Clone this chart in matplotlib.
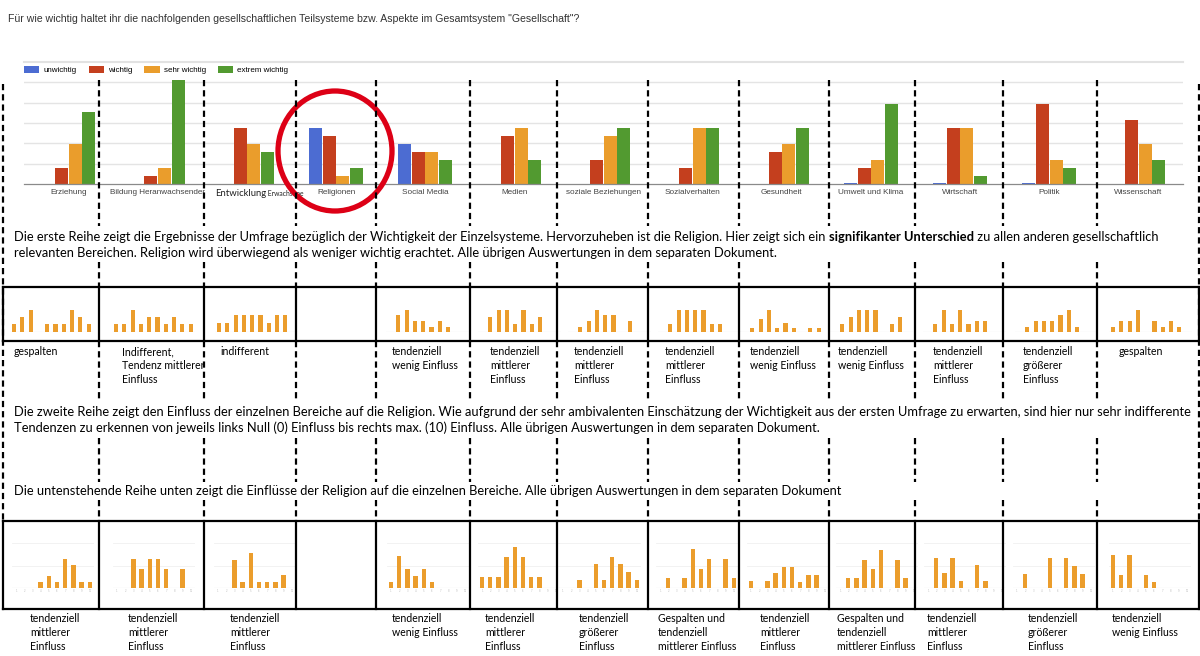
import matplotlib.pyplot as plt
from matplotlib.patches import Ellipse
import numpy as np

W, H = 1200, 656

# top chart: counts per category
categories = ['Erziehung', 'Bildung Heranwachsender', 'Entwicklung Erwachsene', 'Religionen',
              'Social Media', 'Medien', 'soziale Beziehungen', 'Sozialverhalten', 'Gesundheit',
              'Umwelt und Klima', 'Wirtschaft', 'Politik', 'Wissenschaft']
unwichtig = [0, 0, 0, 7, 5, 0, 0, 0, 0, 0.08, 0.08, 0.08, 0]
wichtig = [2, 1, 7, 6, 4, 6, 3, 2, 4, 2, 7, 10, 8]
sehr_wichtig = [5, 2, 5, 1, 4, 7, 6, 7, 5, 3, 7, 3, 5]
extrem_wichtig = [9, 13, 4, 2, 3, 3, 7, 7, 7, 10, 1, 2, 3]
series_labels = ['unwichtig', 'wichtig', 'sehr wichtig', 'extrem wichtig']
colors = ['#4c6cd2', '#c43f1e', '#ea9d2c', '#529a30']

# second row: influence of areas on religion (relative bar heights, slots 0..9)
row1 = [
    [23, 45, 67, 0, 23, 23, 23, 67, 45, 23],
    [23, 23, 67, 23, 45, 45, 23, 45, 23, 23],
    [26, 26, 50, 50, 50, 50, 26, 50, 50, 0],
    None,
    [0, 50, 67, 33, 33, 16, 33, 16, 0, 0],
    [0, 45, 67, 67, 23, 67, 23, 45, 0, 0],
    [0, 16, 33, 67, 50, 50, 0, 33, 0, 0],
    [0, 23, 67, 67, 67, 67, 23, 23, 0, 0],
    [0, 13, 40, 67, 13, 26, 13, 0, 13, 13],
    [0, 23, 45, 67, 67, 67, 0, 23, 45, 0],
    [0, 23, 67, 23, 67, 23, 33, 33, 0, 0],
    [0, 16, 33, 33, 33, 50, 67, 16, 0, 0],
    [16, 33, 33, 67, 0, 33, 16, 33, 16, 0],
]
row1_labels = ['gespalten', 'Indifferent,\nTendenz mittlerer\nEinfluss', 'indifferent', '',
               'tendenziell\nwenig Einfluss', 'tendenziell\nmittlerer\nEinfluss',
               'tendenziell\nmittlerer\nEinfluss', 'tendenziell\nmittlerer\nEinfluss',
               'tendenziell\nwenig Einfluss', 'tendenziell\nwenig Einfluss',
               'tendenziell\nmittlerer\nEinfluss', 'tendenziell\ngrößerer\nEinfluss', 'gespalten']

# third row: influence of religion on areas
row2 = [
    [0, 0, 0, 17, 35, 17, 87, 69, 17, 17],
    [0, 0, 87, 57, 87, 87, 57, 0, 57, 0],
    [0, 0, 83, 19, 105, 19, 19, 19, 40, 0],
    None,
    [18, 95, 57, 37, 57, 18, 0, 0, 0, 0],
    [34, 34, 34, 92, 122, 92, 34, 34, 0, 0],
    [0, 0, 24, 0, 71, 24, 94, 71, 48, 24],
    [0, 30, 0, 30, 116, 58, 86, 0, 86, 30],
    [20, 0, 20, 44, 62, 62, 18, 40, 40, 0],
    [0, 30, 30, 85, 58, 113, 0, 85, 30, 0],
    [0, 90, 45, 90, 22, 0, 68, 22, 0, 0],
    [0, 42, 0, 0, 90, 0, 90, 67, 42, 0],
    [100, 38, 100, 0, 38, 17, 0, 0, 0, 0],
]
row2_labels = ['tendenziell\nmittlerer\nEinfluss', 'tendenziell\nmittlerer\nEinfluss',
               'tendenziell\nmittlerer\nEinfluss', '', 'tendenziell\nwenig Einfluss',
               'tendenziell\nmittlerer\nEinfluss', 'tendenziell\ngrößerer\nEinfluss',
               'Gespalten und\ntendenziell\nmittlerer Einfluss', 'tendenziell\nmittlerer\nEinfluss',
               'Gespalten und\ntendenziell\nmittlerer Einfluss', 'tendenziell\nmittlerer\nEinfluss',
               'tendenziell\ngrößerer\nEinfluss', 'tendenziell\nwenig Einfluss']

# layout (pixels)
col_x = [3, 99, 204, 296, 376, 470, 557, 648, 739, 829, 915, 1003, 1097, 1199]
r1_first = [14, 116, 219, None, 390, 482, 572, 662, 744, 834, 927, 1019, 1113]
r2_first = [16, 117, 218, None, 391, 482, 563, 660, 751, 840, 928, 1017, 1113]
r1_lab_x = [14, 122, 220, 0, 392, 490, 574, 665, 750, 838, 933, 1023, 1119]
r2_lab_x = [30, 128, 230, 0, 392, 485, 579, 658, 760, 837, 927, 1028, 1112]

body_font = 'Lato'
orange = '#eb9d2c'


def rect(x0, y0, x1, y1):
    return [x0 / W, 1 - y1 / H, (x1 - x0) / W, (y1 - y0) / H]


fig = plt.figure(figsize=(W / 100, H / 100), dpi=100)

# --- grouped bar chart
ax = fig.add_axes(rect(24, 62, 1183, 184))
x = np.arange(len(categories))
for j, vals in enumerate([unwichtig, wichtig, sehr_wichtig, extrem_wichtig]):
    ax.bar(x + (j - 1.5) * 0.152, vals, 0.146, color=colors[j], label=series_labels[j], zorder=2)
ax.set_xlim(-0.5, len(categories) - 0.5)
ax.set_ylim(0, 15.25)
ax.set_yticks(np.linspace(0, 12.7, 6)[1:])
ax.yaxis.grid(True, color='#e4e4e4', lw=1)
ax.set_axisbelow(True)
ax.tick_params(left=False, labelleft=False, bottom=False, labelbottom=False)
for s in ['left', 'right']:
    ax.spines[s].set_visible(False)
ax.spines['top'].set_color('#e2e2e2')
ax.spines['top'].set_linewidth(1.5)
ax.spines['bottom'].set_color('#8a8a8a')
ax.spines['bottom'].set_linewidth(0.9)
lab_y = (184 - 193) / 122
for i, c in enumerate(categories):
    if c == 'Entwicklung Erwachsene':
        t = ax.text(i - 0.07, lab_y, 'Entwicklung', transform=ax.get_xaxis_transform(),
                    ha='center', va='center', fontsize=6.8, family=body_font, color='#222')
        ax.annotate(' Erwachsene', xy=(1, 0.5), xycoords=t, ha='left', va='center',
                    fontsize=4.9, family=body_font, color='#222')
    else:
        ax.text(i, lab_y, c, transform=ax.get_xaxis_transform(), ha='center', va='center',
                fontsize=5.9, family='Liberation Sans', color='#444')
ax.legend(loc='center left', bbox_to_anchor=(0, (184 - 70) / 122), ncol=4, frameon=False,
          handlelength=1.9, handleheight=1.0, handletextpad=0.5,
          columnspacing=1.5, borderpad=0, borderaxespad=0,
          prop={'family': 'Liberation Sans', 'size': 5.8})


# --- mini charts
def mini(vals, first, base, spacing, ymax, width, grid=False):
    a = fig.add_axes(rect(first - spacing / 2, base - ymax / 3, first + spacing * 9.5, base))
    a.bar(np.arange(10), vals, width, color=orange, zorder=2)
    a.set_xlim(-0.5, 9.5)
    a.set_ylim(0, ymax)
    a.axis('off')
    a.axhline(0, color='#d0d0d0', lw=0.8, zorder=1)
    if grid:
        for g in [ymax * 0.45, ymax * 0.9]:
            a.axhline(g, color='#f0f0f0', lw=0.6, zorder=0)
        for k in range(10):
            a.text(k, -3, str(k + 1), ha='center', va='top', fontsize=1.8, color='#bbbbbb')
    return a


for i, vals in enumerate(row1):
    if vals is not None:
        mini(vals, r1_first[i], 332, 8.3, 80, 0.5)
for i, vals in enumerate(row2):
    if vals is not None:
        mini(vals, r2_first[i], 588, 8.2, 150, 0.55, grid=True)

# --- overlay (lines, boxes, text)
ov = fig.add_axes([0, 0, 1, 1], zorder=5)
ov.set_xlim(0, W)
ov.set_ylim(H, 0)
ov.axis('off')

ov.text(8, 19, 'Für wie wichtig haltet ihr die nachfolgenden gesellschaftlichen Teilsysteme bzw. '
        'Aspekte im Gesamtsystem "Gesellschaft"?', fontsize=7.6, family='Liberation Sans',
        color='#333', va='center', ha='left')

dash = dict(color='black', lw=1.6, dashes=(2.8, 1.8))
for k, xv in enumerate(col_x):
    if k == 0 or k == len(col_x) - 1:
        ov.plot([xv, xv], [84, 521], **dash)
    else:
        for y0, y1 in [(80, 226), (262, 287), (341, 402), (438, 482), (500, 521)]:
            ov.plot([xv, xv], [y0, y1], **dash)

box = dict(color='black', lw=1.6, solid_capstyle='projecting')
for y0, y1 in [(287, 341), (521, 609)]:
    ov.plot([col_x[0], col_x[-1]], [y0, y0], **box)
    ov.plot([col_x[0], col_x[-1]], [y1, y1], **box)
    for xv in col_x:
        ov.plot([xv, xv], [y0, y1], **box)

ov.add_patch(Ellipse((335, 151), 114, 120, fill=False, edgecolor='#dd0016', lw=3.8))

pf = dict(fontsize=9.25, family=body_font, color='black', va='center', ha='left')
t1 = ov.text(14, 237, 'Die erste Reihe zeigt die Ergebnisse der Umfrage bezüglich der Wichtigkeit der '
             'Einzelsysteme. Hervorzuheben ist die Religion. Hier zeigt sich ein ', **pf)
t2 = ov.annotate('signifikanter Unterschied', xy=(1, 0.5), xycoords=t1, weight='bold', **pf)
ov.annotate(' zu allen anderen gesellschaftlich', xy=(1, 0.5), xycoords=t2, **pf)
ov.text(14, 253, 'relevanten Bereichen. Religion wird überwiegend als weniger wichtig erachtet. '
        'Alle übrigen Auswertungen in dem separaten Dokument.', **pf)
ov.text(14, 412, 'Die zweite Reihe zeigt den Einfluss der einzelnen Bereiche auf die Religion. Wie '
        'aufgrund der sehr ambivalenten Einschätzung der Wichtigkeit aus der ersten Umfrage zu '
        'erwarten, sind hier nur sehr indifferente', **pf)
ov.text(14, 428, 'Tendenzen zu erkennen von jeweils links Null (0) Einfluss bis rechts max. (10) '
        'Einfluss. Alle übrigen Auswertungen in dem separaten Dokument.', **pf)
ov.text(14, 491, 'Die untenstehende Reihe unten zeigt die Einflüsse der Religion auf die einzelnen '
        'Bereiche. Alle übrigen Auswertungen in dem separaten Dokument', **pf)

lf = dict(fontsize=7.6, family=body_font, color='black', va='top', ha='left', linespacing=1.35)
for i, lab in enumerate(row1_labels):
    if lab:
        ov.text(r1_lab_x[i], 346, lab, **lf)
for i, lab in enumerate(row2_labels):
    if lab:
        ov.text(r2_lab_x[i], 613, lab, **lf)

fig.savefig('out.png', dpi=100)
